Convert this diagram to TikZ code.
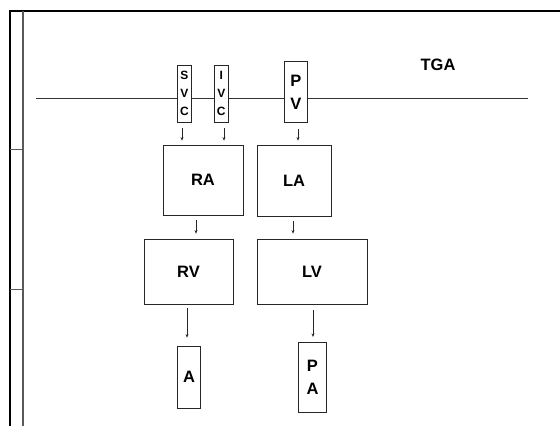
\documentclass[tikz,border=0pt]{standalone}
\usepackage{fontspec}
\setmainfont{Liberation Sans}
\usetikzlibrary{arrows.meta}
\begin{document}
\begin{tikzpicture}[x=1pt,y=-1pt,
  box/.style={draw=black!85,line width=0.8pt,fill=white,inner sep=0pt,align=center},
  arr/.style={draw=black!85,line width=0.7pt,-{Stealth[length=3.5pt,width=3pt]}},
  big/.style={font=\fontsize{16.5}{16.5}\selectfont\bfseries},
  vein/.style={font=\fontsize{12}{18}\selectfont\bfseries},
  tall/.style={font=\fontsize{16.5}{23}\selectfont\bfseries}]
\useasboundingbox (0,0) rectangle (560,426);
% frame
\draw[line width=2.2pt,black] (10,426) -- (10,11) -- (560,11);
\draw[line width=1.3pt,black!65] (23,11) -- (23,426);
\draw[line width=0.8pt,black!65] (10,149) -- (23,149);
\draw[line width=0.8pt,black!65] (10,289) -- (23,289);
% horizontal line
\coordinate (hl) at (36,98);
\coordinate (hr) at (528,98);
\draw[line width=1pt,black!80] (hl) -- (hr);
% nodes
\node[box,vein,minimum width=14,minimum height=57] (SVC) at (184.5,93.5) {S\\V\\C};
\node[box,vein,minimum width=14,minimum height=57] (IVC) at (221.3,93.5) {I\\V\\C};
\node[box,tall,minimum width=23,minimum height=61] (PV) at (295.8,92.2) {P\\V};
\node[box,big,minimum width=80,minimum height=70] (RA) at (203,180) {RA};
\node[box,big,minimum width=74,minimum height=71] (LA) at (294,180.5) {LA};
\node[box,big,minimum width=89,minimum height=65] (RV) at (188.5,271.5) {RV};
\node[box,big,minimum width=110,minimum height=65] (LV) at (312,271.5) {LV};
\node[box,big,minimum width=23.4,minimum height=62] (A) at (189,377) {A};
\node[box,tall,minimum width=28.4,minimum height=70] (PA) at (312.5,377.3) {P\\A};
\node[font=\fontsize{16.5}{16.5}\selectfont\bfseries] (TGA) at (438,65) {TGA};
% connectors
\draw[arr,shorten <=6pt,shorten >=4pt] (SVC.south -| 182,0) -- (RA.north -| 182,0);
\draw[arr,shorten <=6pt,shorten >=4pt] (IVC.south -| 224,0) -- (RA.north -| 224,0);
\draw[arr,shorten <=6pt,shorten >=4pt] (PV.south -| 298,0) -- (LA.north -| 298,0);
\draw[arr,shorten <=5pt,shorten >=5pt] (RA.south -| 196,0) -- (RV.north -| 196,0);
\draw[arr,shorten <=5pt,shorten >=5pt] (LA.south -| 293,0) -- (LV.north -| 293,0);
\draw[arr,shorten <=4pt,shorten >=8pt] (RV.south -| 187,0) -- (A.north -| 187,0);
\draw[arr,shorten <=6pt,shorten >=5pt] (LV.south -| 313,0) -- (PA.north -| 313,0);
\end{tikzpicture}
\end{document}
